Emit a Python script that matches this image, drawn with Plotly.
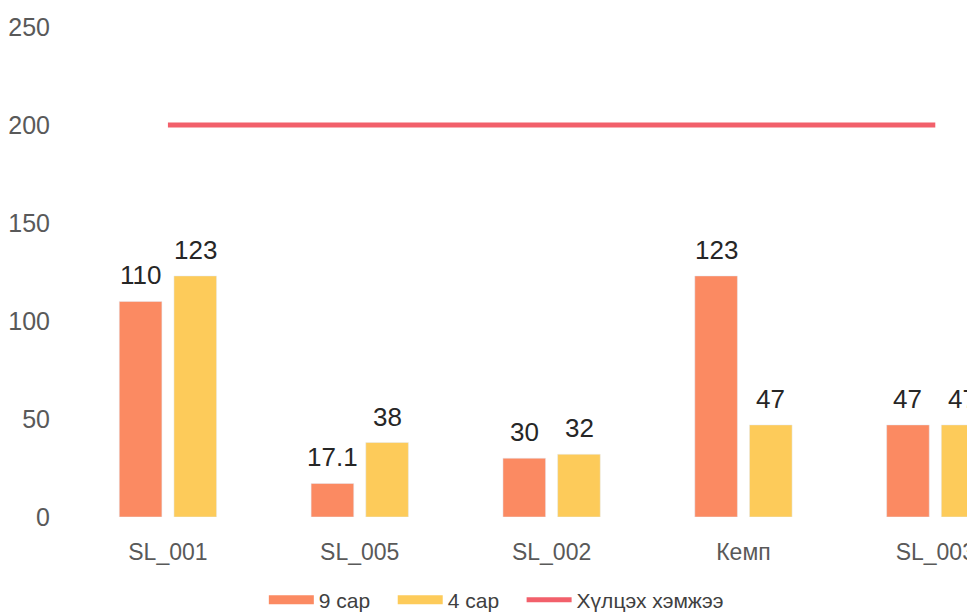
import plotly.graph_objects as go

categories = ["SL_001", "SL_005", "SL_002", "Кемп", "SL_003"]
series_9 = [110, 17.1, 30, 123, 47]
series_4 = [123, 38, 32, 47, 47]
threshold = [200, 200, 200, 200, 200]
labels_9 = ["110", "17.1", "30", "123", "47"]
labels_4 = ["123", "38", "32", "47", "47"]
y_ticks = [0, 50, 100, 150, 200, 250]

ORANGE = "#FB8A62"
YELLOW = "#FDCB5A"
RED = "#F2606B"
FONT = "Liberation Sans, Arial, sans-serif"
PAD = "\u00a0\u00a0\u00a0"

fig = go.Figure()
fig.add_trace(go.Bar(
    x=categories, y=series_9, name="9 сар", marker_color=ORANGE,
    showlegend=False, legendgroup="g9",
))
fig.add_trace(go.Bar(
    x=categories, y=series_4, name="4 сар", marker_color=YELLOW,
    showlegend=False, legendgroup="g4",
))
fig.add_trace(go.Scatter(
    x=categories, y=threshold, name="Хүлцэх хэмжээ", mode="lines",
    line=dict(color=RED, width=5), showlegend=False, legendgroup="gl",
))
# legend-only entries (no data) to show wide swatches like the reference
fig.add_trace(go.Scatter(x=[None], y=[None], mode="lines", name="9 сар" + PAD,
                         line=dict(color=ORANGE, width=9), legendgroup="g9"))
fig.add_trace(go.Scatter(x=[None], y=[None], mode="lines", name="4 сар" + PAD,
                         line=dict(color=YELLOW, width=9), legendgroup="g4"))
fig.add_trace(go.Scatter(x=[None], y=[None], mode="lines", name="Хүлцэх хэмжээ",
                         line=dict(color=RED, width=5), legendgroup="gl"))

# value labels above bars (anchored to data values)
GROUP_HALF = 27.4
for series, labels, side in ((series_9, labels_9, -1), (series_4, labels_4, 1)):
    for cat, val, lab in zip(categories, series, labels):
        fig.add_annotation(
            x=cat, y=val, text=lab, showarrow=False,
            xanchor="center", yanchor="bottom",
            xshift=side * GROUP_HALF, yshift=9,
            font=dict(size=26, color="#262626", family=FONT),
        )

fig.update_layout(
    width=967, height=605,
    margin=dict(l=62, r=0, t=19, b=96),
    paper_bgcolor="white", plot_bgcolor="white",
    barmode="group", bargap=0.43, bargroupgap=0.22,
    font=dict(family=FONT, color="#595959", size=21),
    showlegend=True,
    legend=dict(
        orientation="h", xref="container", x=0.505, xanchor="center",
        yref="container", y=0.0215, yanchor="middle",
        font=dict(size=21, color="#404040"), itemwidth=45,
        traceorder="normal", groupclick="togglegroup",
    ),
)
fig.update_xaxes(
    range=[-0.5, 4.207], showgrid=False, zeroline=False, showline=False,
    ticks="outside", ticklen=14, tickcolor="white",
    tickfont=dict(size=23, color="#595959"),
)
fig.update_yaxes(
    range=[0, 250], tickvals=y_ticks, showgrid=False, zeroline=False,
    showline=False, ticks="outside", ticklen=16, tickcolor="white",
    tickfont=dict(size=25, color="#595959"),
)

fig.write_html("out.html")
